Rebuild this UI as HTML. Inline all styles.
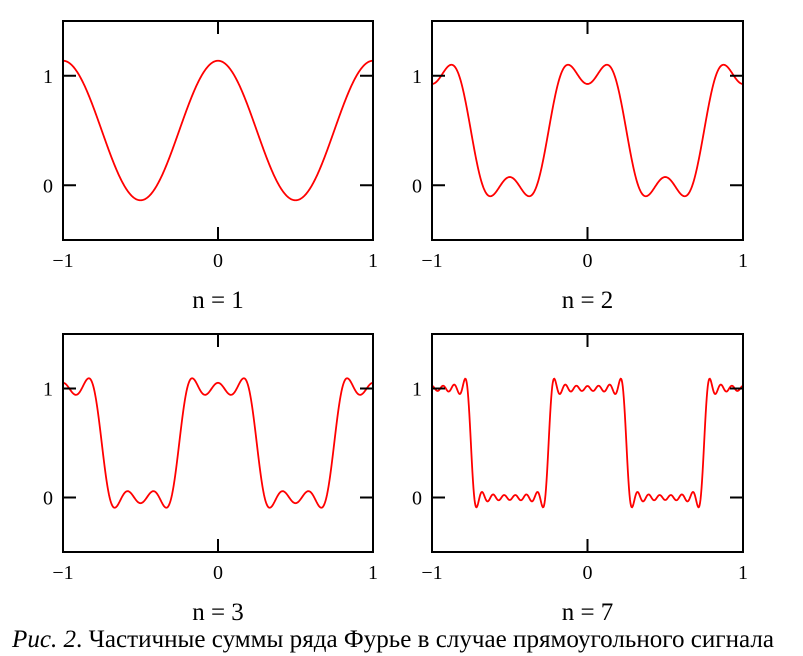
<!DOCTYPE html>
<html><head><meta charset="utf-8"><style>
html,body{margin:0;padding:0;background:#fff;}
svg{display:block;}
text{font-family:"Liberation Serif","Noto Serif CJK SC",serif;fill:#000;}
</style></head><body>
<svg id="fig" width="803" height="656" viewBox="0 0 803 656">
<text x="12" y="647" font-size="25" textLength="762" lengthAdjust="spacingAndGlyphs"><tspan font-style="italic">Рис. 2</tspan>. Частичные суммы ряда Фурье в случае прямоугольного сигнала</text>
</svg>
<script>
// Fourier data: constant term, harmonic orders and coefficients per panel
const offset = 0.5;
const harmonics1 = [1];
const coeffs1 = [0.637];
const harmonics2 = [1, 3];
const coeffs2 = [0.637, -0.212];
const harmonics3 = [1, 3, 5];
const coeffs3 = [0.637, -0.212, 0.127];
const harmonics7 = [1, 3, 5, 7, 9, 11, 13];
const coeffs7 = [0.637, -0.212, 0.127, -0.091, 0.071, -0.058, 0.049];
const panelLabels = ["n = 1", "n = 2", "n = 3", "n = 7"];
const xTicks = [-1, 0, 1];
const xTickLabels = ["\u22121", "0", "1"];
const yTicks = [0, 1];
const yTickLabels = ["0", "1"];
const xDomain = [-1, 1];
const yDomain = [-0.5, 1.5];

const NS = "http://www.w3.org/2000/svg";
const svg = document.getElementById("fig");
const panels = [
  {x0:63, x1:373, y0:21, y1:240, h:harmonics1, c:coeffs1},
  {x0:432, x1:743, y0:21, y1:240, h:harmonics2, c:coeffs2},
  {x0:63, x1:373, y0:334, y1:552, h:harmonics3, c:coeffs3},
  {x0:432, x1:743, y0:334, y1:552, h:harmonics7, c:coeffs7}
];
function mk(tag, attrs){const e=document.createElementNS(NS,tag);for(const k in attrs)e.setAttribute(k,attrs[k]);return e;}

panels.forEach((p,i)=>{
  const g = mk("g",{});
  
  
  svg.appendChild(g);
  const sx = v => p.x0 + (v - xDomain[0])/(xDomain[1]-xDomain[0])*(p.x1-p.x0);
  const sy = v => p.y1 - (v - yDomain[0])/(yDomain[1]-yDomain[0])*(p.y1-p.y0);
  let d = "";
  const N = 600;
  for(let j=0;j<=N;j++){
    const x = xDomain[0] + (xDomain[1]-xDomain[0])*j/N;
    let y = offset;
    for(let k=0;k<p.h.length;k++) y += p.c[k]*Math.cos(2*Math.PI*p.h[k]*x);
    d += (j?"L":"M") + sx(x).toFixed(2) + " " + sy(y).toFixed(2);
  }
  const path = mk("path",{d:d, fill:"none", stroke:"#ff0000", "stroke-width":"1.8"});
  
  
  g.appendChild(path);
  const rect = mk("rect",{x:p.x0, y:p.y0, width:p.x1-p.x0, height:p.y1-p.y0, fill:"none", stroke:"#000", "stroke-width":"2"});
  
  
  g.appendChild(rect);
  xTicks.forEach((t,k)=>{
    const X = sx(t);
    if(t===0){
      const a = mk("path",{d:`M${X} ${p.y0}v13M${X} ${p.y1}v-13`, stroke:"#000", "stroke-width":"2"});
      
      
      g.appendChild(a);
    }
    const tx = mk("text",{x:X, y:p.y1+27, "font-size":"20", "text-anchor":"middle"});
    tx.textContent = xTickLabels[k];
    
    
    g.appendChild(tx);
  });
  yTicks.forEach((t,k)=>{
    const Y = sy(t);
    const a = mk("path",{d:`M${p.x0} ${Y}h13M${p.x1} ${Y}h-13`, stroke:"#000", "stroke-width":"2"});
    
    
    g.appendChild(a);
    const tx = mk("text",{x:p.x0-15, y:Y+7, "font-size":"20", "text-anchor":"middle"});
    tx.textContent = yTickLabels[k];
    
    
    g.appendChild(tx);
  });
  const lab = mk("text",{x:(p.x0+p.x1)/2, y:p.y1+68, "font-size":"25", "text-anchor":"middle"});
  lab.textContent = panelLabels[i];
  
  
  g.appendChild(lab);
});
</script>
</body></html>
